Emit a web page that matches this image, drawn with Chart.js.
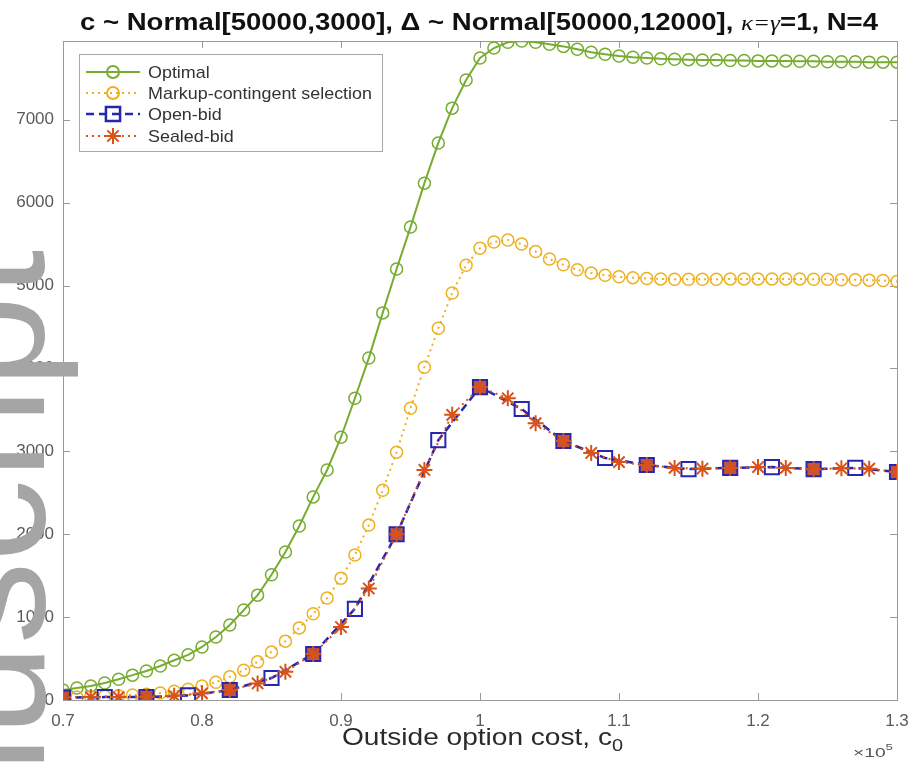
<!DOCTYPE html>
<html>
<head>
<meta charset="utf-8">
<script src="https://cdn.jsdelivr.net/npm/chart.js@4.4.1/dist/chart.umd.min.js"></script>
<style>
  html, body { margin: 0; padding: 0; background: #fff; }
  #caixa { width: 914px; height: 775px; }
</style>
</head>
<body>
<div id="caixa"><canvas id="grafico" width="914" height="775"></canvas></div>
<script>
// custo da opção externa (em unidades de 10^5)
const xFino = [0.70, 0.71, 0.72, 0.73, 0.74, 0.75, 0.76, 0.77, 0.78, 0.79,
               0.80, 0.81, 0.82, 0.83, 0.84, 0.85, 0.86, 0.87, 0.88, 0.89,
               0.90, 0.91, 0.92, 0.93, 0.94, 0.95, 0.96, 0.97, 0.98, 0.99,
               1.00, 1.01, 1.02, 1.03, 1.04, 1.05, 1.06, 1.07, 1.08, 1.09,
               1.10, 1.11, 1.12, 1.13, 1.14, 1.15, 1.16, 1.17, 1.18, 1.19,
               1.20, 1.21, 1.22, 1.23, 1.24, 1.25, 1.26, 1.27, 1.28, 1.29, 1.30];
const xAberto = [0.70, 0.73, 0.76, 0.79, 0.82, 0.85, 0.88, 0.91, 0.94, 0.97, 1.00,
                 1.03, 1.06, 1.09, 1.12, 1.15, 1.18, 1.21, 1.24, 1.27, 1.30];
const xSelado = [0.70, 0.72, 0.74, 0.76, 0.78, 0.80, 0.82, 0.84, 0.86, 0.88, 0.90,
                 0.92, 0.94, 0.96, 0.98, 1.00, 1.02, 1.04, 1.06, 1.08, 1.10,
                 1.12, 1.14, 1.16, 1.18, 1.20, 1.22, 1.24, 1.26, 1.28, 1.30];

const otimo = [120, 145, 170, 205, 250, 300, 350, 410, 480, 545,
               640, 760, 905, 1085, 1265, 1510, 1785, 2100, 2450, 2775,
               3170, 3640, 4125, 4670, 5200, 5705, 6235, 6720, 7140, 7480,
               7745, 7865, 7935, 7950, 7935, 7910, 7885, 7850, 7815, 7790,
               7770, 7755, 7745, 7735, 7730, 7725, 7720, 7720, 7715, 7715,
               7710, 7710, 7710, 7705, 7705, 7700, 7700, 7700, 7695, 7695, 7695];
const markup = [35, 35, 40, 45, 50, 60, 70, 85, 105, 130,
                170, 215, 280, 360, 460, 580, 710, 870, 1040, 1230,
                1470, 1750, 2110, 2530, 2990, 3520, 4015, 4485, 4910, 5245,
                5450, 5525, 5550, 5500, 5410, 5320, 5250, 5190, 5150, 5125,
                5105, 5095, 5085, 5080, 5075, 5075, 5075, 5075, 5080, 5080,
                5080, 5080, 5080, 5080, 5075, 5075, 5070, 5070, 5065, 5060, 5050];
const aberto = [30, 35, 35, 55, 120, 265, 555, 1100, 2000, 3135, 3775,
                3510, 3125, 2920, 2835, 2785, 2800, 2810, 2785, 2800, 2750];
const selado = [30, 35, 35, 40, 50, 80, 120, 200, 340, 555, 880,
                1345, 2000, 2775, 3440, 3775, 3640, 3340, 3125, 2980, 2870,
                2835, 2800, 2790, 2800, 2810, 2800, 2785, 2795, 2790, 2750];

const nomes = ['Optimal', 'Markup-contingent selection', 'Open-bid', 'Sealed-bid'];
const ticksX = [0.7, 0.8, 0.9, 1.0, 1.1, 1.2, 1.3];
const rotulosX = ['0.7', '0.8', '0.9', '1', '1.1', '1.2', '1.3'];
const ticksY = [0, 1000, 2000, 3000, 4000, 5000, 6000, 7000];
const rotulosY = ['0', '1000', '2000', '3000', '4000', '5000', '6000', '7000'];

const verde = '#77ac30';
const amarelo = '#edb120';
const azul = '#2626b0';
const laranja = '#d95319';

function pontos(xs, ys) {
  return xs.map((x, i) => ({ x: x, y: ys[i] }));
}

// quadrado que fica por baixo de um asterisco aparece preenchido de vermelho escuro
function fundoQuadrado(c) {
  if (!c.raw) return 'rgba(0,0,0,0)';
  const junto = xSelado.some(v => Math.abs(v - c.raw.x) < 1e-6);
  return junto ? 'rgba(165,55,60,0.85)' : 'rgba(0,0,0,0)';
}

const series = [
  { label: nomes[0], data: pontos(xFino, otimo), borderColor: verde, borderWidth: 2,
    pointStyle: 'circle', pointRadius: 6, pointBorderWidth: 1.5, order: 4 },
  { label: nomes[1], data: pontos(xFino, markup), borderColor: amarelo, borderWidth: 2,
    borderDash: [2, 4], pointStyle: 'circle', pointRadius: 6, pointBorderWidth: 1.5, order: 3 },
  { label: nomes[2], data: pontos(xAberto, aberto), borderColor: azul, borderWidth: 2.5,
    borderDash: [8, 5], pointStyle: 'rect', pointRadius: 10, pointBorderWidth: 2, order: 2 },
  { label: nomes[3], data: pontos(xSelado, selado), borderColor: laranja, borderWidth: 2,
    borderDash: [2, 4], pointStyle: 'star', pointRadius: 8, pointBorderWidth: 2, order: 1 }
];
series.forEach(s => {
  s.pointBorderColor = s.borderColor;
  s.pointBackgroundColor = 'rgba(0,0,0,0)';
  s.tension = 0;
  s.fill = false;
});
series[2].pointBackgroundColor = fundoQuadrado;

// escreve pedaços de texto com fontes diferentes, esticados até a largura pedida
function escreverPartes(ctx, partes, xEsq, larguraAlvo, yBase) {
  let total = 0;
  partes.forEach(p => {
    ctx.font = p.fonte;
    p.w = ctx.measureText(p.texto).width;
    total += p.w;
  });
  ctx.save();
  ctx.translate(xEsq, yBase);
  ctx.scale(larguraAlvo / total, 1);
  ctx.textAlign = 'left';
  ctx.textBaseline = 'alphabetic';
  let x = 0;
  partes.forEach(p => {
    ctx.font = p.fonte;
    ctx.fillStyle = p.cor;
    ctx.fillText(p.texto, x, p.dy || 0);
    x += p.w;
  });
  ctx.restore();
}

// caixa dos eixos com marcas para dentro
const molduraEixos = {
  id: 'molduraEixos',
  beforeDatasetsDraw(chart) {
    const { ctx, chartArea: a, scales: { x, y } } = chart;
    ctx.save();
    ctx.strokeStyle = '#9a9a9a';
    ctx.lineWidth = 1;
    ctx.strokeRect(a.left + 0.5, a.top + 0.5, a.right - a.left, a.bottom - a.top);
    ctx.beginPath();
    ticksX.forEach(v => {
      const px = Math.round(x.getPixelForValue(v)) + 0.5;
      ctx.moveTo(px, a.bottom); ctx.lineTo(px, a.bottom - 7);
      ctx.moveTo(px, a.top); ctx.lineTo(px, a.top + 7);
    });
    ticksY.forEach(v => {
      const py = Math.round(y.getPixelForValue(v)) + 0.5;
      ctx.moveTo(a.left, py); ctx.lineTo(a.left + 7, py);
      ctx.moveTo(a.right, py); ctx.lineTo(a.right - 7, py);
    });
    ctx.stroke();
    ctx.restore();
  }
};

function marcador(ctx, ds, x, y) {
  ctx.save();
  ctx.setLineDash([]);
  ctx.strokeStyle = ds.borderColor;
  ctx.fillStyle = 'rgba(0,0,0,0)';
  Chart.helpers.drawPoint(ctx, {
    pointStyle: ds.pointStyle, radius: ds.pointRadius, rotation: 0, borderWidth: ds.pointBorderWidth
  }, x, y);
  ctx.restore();
}

// legenda no canto superior esquerdo, dentro da área do gráfico
const legendaCaixa = {
  id: 'legendaCaixa',
  afterDatasetsDraw(chart) {
    const ctx = chart.ctx;
    const yLinhas = [72, 93, 114, 136];
    ctx.save();
    ctx.fillStyle = '#fff';
    ctx.fillRect(79, 54, 303, 97);
    ctx.strokeStyle = '#a8a8a8';
    ctx.lineWidth = 1;
    ctx.strokeRect(79.5, 54.5, 303, 97);
    ctx.font = '17px "Liberation Sans", Arial, sans-serif';
    const esc = 224 / ctx.measureText(nomes[1]).width;
    series.forEach((ds, i) => {
      const yl = yLinhas[i];
      ctx.strokeStyle = ds.borderColor;
      ctx.lineWidth = ds.borderWidth;
      ctx.setLineDash(ds.borderDash || []);
      ctx.beginPath();
      ctx.moveTo(86, yl); ctx.lineTo(140, yl);
      ctx.stroke();
      marcador(ctx, ds, 113, yl);
      ctx.save();
      ctx.translate(148, yl);
      ctx.scale(esc, 1);
      ctx.fillStyle = '#333';
      ctx.textBaseline = 'middle';
      ctx.fillText(ds.label, 0, 1);
      ctx.restore();
    });
    ctx.restore();
  }
};

// título, rótulo do eixo x, expoente e marca d'água lateral
const textos = {
  id: 'textos',
  afterDraw(chart) {
    const ctx = chart.ctx;
    escreverPartes(ctx, [
      { texto: 'c ~ Normal[50000,3000], Δ ~ Normal[50000,12000], ', fonte: 'bold 24px "Liberation Sans"', cor: '#111' },
      { texto: 'κ=γ', fonte: 'italic 22px "Liberation Serif"', cor: '#111' },
      { texto: '=1, N=4', fonte: 'bold 24px "Liberation Sans"', cor: '#111' }
    ], 80, 798, 30);
    escreverPartes(ctx, [
      { texto: 'Outside option cost, c', fonte: '24px "Liberation Sans"', cor: '#2a2a2a' },
      { texto: '0', fonte: '17px "Liberation Sans"', cor: '#2a2a2a', dy: 6 }
    ], 342, 281, 745);
    escreverPartes(ctx, [
      { texto: '×10', fonte: '13px "Liberation Sans"', cor: '#555' },
      { texto: '5', fonte: '9px "Liberation Sans"', cor: '#555', dy: -7 }
    ], 853, 40, 757);

    ctx.save();
    ctx.fillStyle = '#a5a5a5';
    ctx.font = '165px "Liberation Sans"';
    ctx.translate(44, 250);
    ctx.rotate(-Math.PI / 2);
    ctx.textAlign = 'right';
    ctx.textBaseline = 'alphabetic';
    ctx.fillText('Manuscript', 0, 0);
    ctx.restore();
  }
};

const fonteTicks = { family: '"Liberation Sans", Arial, sans-serif', size: 17 };

const grafico = new Chart(document.getElementById('grafico'), {
  type: 'line',
  data: { datasets: series },
  options: {
    responsive: false,
    animation: false,
    layout: { padding: { top: 41, right: 17, bottom: 0, left: 0 } },
    plugins: { legend: { display: false }, tooltip: { enabled: false } },
    scales: {
      x: {
        type: 'linear', min: 0.7, max: 1.3,
        afterFit: s => { s.height = 75; s.paddingLeft = 0; s.paddingRight = 0; },
        afterBuildTicks: s => { s.ticks = ticksX.map(v => ({ value: v })); },
        grid: { display: false, drawTicks: false },
        border: { display: false },
        ticks: { padding: 11, color: '#5a5a5a', font: fonteTicks, maxRotation: 0,
                 callback: (v, i) => rotulosX[i] }
      },
      y: {
        type: 'linear', min: 0, max: 7950,
        afterFit: s => { s.width = 63; s.paddingTop = 0; s.paddingBottom = 0; },
        afterBuildTicks: s => { s.ticks = ticksY.map(v => ({ value: v })); },
        grid: { display: false, drawTicks: false },
        border: { display: false },
        ticks: { padding: 9, color: '#5a5a5a', font: fonteTicks,
                 callback: (v, i) => rotulosY[i] }
      }
    }
  },
  plugins: [molduraEixos, legendaCaixa, textos]
});
</script>
</body>
</html>
